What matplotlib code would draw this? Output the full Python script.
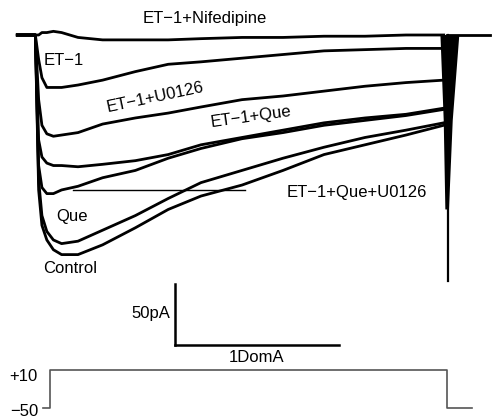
import numpy as np
import matplotlib
matplotlib.use("Agg")
import matplotlib.pyplot as plt

plt.rcParams['font.family'] = ['Liberation Sans', 'DejaVu Sans']

# sample times (ms) shared by all current traces
t = [-12, -1, 1, 3, 6, 10, 15, 25, 40, 60, 80, 100, 125, 150, 175, 200, 225, 248]

# currents (pA)
nifedipine = [0, 0, 0, 2, 2, 3, 2, -2, -4, -4, -4, -3, -2, -2, -1, -1, 0, 0]
et1 = [0, 0, -20, -35, -43, -43, -43, -41, -37, -30, -24, -22, -19, -16, -13, -12, -11, -11]
et1_u0126 = [0, 0, -53, -74, -81, -83, -82, -80, -73, -68, -64, -59, -53, -50, -46, -42, -39, -37]
et1_que = [0, 0, -86, -100, -105, -107, -107, -108, -106, -103, -98, -90, -84, -78, -72, -68, -65, -60]
et1_que_u0126 = [0, 0, -107, -125, -130, -130, -127, -124, -117, -111, -101, -93, -85, -80, -74, -70, -66, -61]
que = [0, 0, -119, -148, -161, -168, -171, -169, -160, -148, -134, -121, -111, -101, -92, -84, -78, -72]
control = [0, 0, -127, -156, -168, -176, -180, -180, -172, -158, -143, -132, -123, -111, -98, -90, -82, -74]

# tail after the step
post_t = [250, 276]
post_i = [0, 0]

# capacitive transient at the end of the step
cap_t = [246, 257.5, 253.5, 251.2, 249, 248]
cap_i = [0, 0, -70, -143, -143, -70]
cap_line_t = [250.5, 250.5]
cap_line_i = [0, -202]

# reference line
ref_t = [22, 127]
ref_i = [-127, -127]

# scale bars: 50 pA, 100 ms
bar_t0 = 84
bar_i0 = -254
bar_pa = 50
bar_ms = 100

# voltage protocol (mV)
v_t = [3.7, 7.9, 7.9, 250, 250, 265.2]
v_mv = [-50, -50, 10, 10, -50, -50]

fig = plt.figure(figsize=(4.92, 4.18), dpi=100)
ax = fig.add_axes([0, 0, 1, 1])
ax.set_xlim(-37 / 1.64, (492 - 37) / 1.64)
ax.set_ylim((35 - 418) / 1.22, 35 / 1.22)
ax.axis('off')

for tr in [nifedipine, et1, et1_u0126, et1_que, et1_que_u0126, que, control]:
    ax.plot(t, tr, color='black', lw=2.0, solid_joinstyle='round')
ax.plot(post_t, post_i, color='black', lw=2.0)
ax.fill(cap_t, cap_i, color='black', lw=0)
ax.plot(cap_line_t, cap_line_i, color='black', lw=1.6)
ax.plot(ref_t, ref_i, color='black', lw=1.0)

ax.plot([bar_t0, bar_t0], [bar_i0 + bar_pa, bar_i0], color='black', lw=1.8)
ax.plot([bar_t0, bar_t0 + bar_ms], [bar_i0, bar_i0], color='black', lw=1.8)
ax.text(bar_t0 - 2.5, bar_i0 + 26, '50pA', fontsize=12, ha='right', va='center')
ax.text(bar_t0 + bar_ms / 2, bar_i0 - 10, '1DomA', fontsize=12, ha='center', va='center')

fs = 12
ax.text(102.4, 13.5, 'ET\u22121+Nifedipine', fontsize=fs, ha='center', va='center')
ax.text(16.5, -20.5, 'ET\u22121', fontsize=fs, ha='center', va='center')
ax.text(72, -51, 'ET\u22121+U0126', fontsize=fs, ha='center', va='center', rotation=12)
ax.text(130.5, -67, 'ET\u22121+Que', fontsize=fs, ha='center', va='center', rotation=8)
ax.text(195, -129.5, 'ET\u22121+Que+U0126', fontsize=fs, ha='center', va='center')
ax.text(21.3, -149, 'Que', fontsize=fs, ha='center', va='center')
ax.text(20.1, -191, 'Control', fontsize=fs, ha='center', va='center')

# voltage axes on top, same time axis
ax2 = fig.add_axes([0, 0, 1, 1])
ax2.set_xlim(ax.get_xlim())
ax2.set_ylim(10 - 48 * 60 / 38, 10 + 370 * 60 / 38)
ax2.patch.set_alpha(0)
ax2.axis('off')
ax2.plot(v_t, v_mv, color='#555555', lw=1.2)
ax2.text(0.6, -1, '+10', fontsize=fs, ha='right', va='center')
ax2.text(0.6, -55, '\u221250', fontsize=fs, ha='right', va='center')

fig.savefig('out.png', dpi=100)
